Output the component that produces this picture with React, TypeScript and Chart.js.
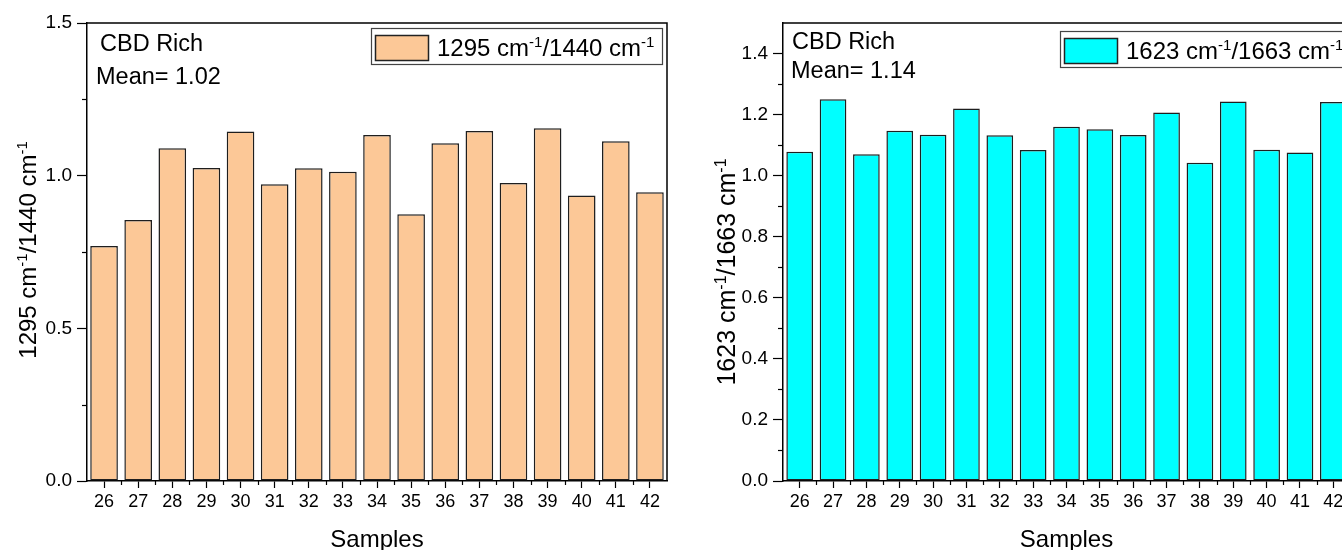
import React, { useEffect, useRef } from 'react';
import { Chart, registerables } from 'chart.js';

Chart.register(...registerables);

// ---------------- data ----------------
const SAMPLES = ['26', '27', '28', '29', '30', '31', '32', '33', '34', '35', '36', '37', '38', '39', '40', '41', '42'];
const RATIO_1295_1440 = [0.770, 0.855, 1.090, 1.025, 1.145, 0.972, 1.024, 1.013, 1.133, 0.874, 1.106, 1.146, 0.976, 1.155, 0.935, 1.113, 0.946];
const RATIO_1623_1663 = [1.078, 1.250, 1.070, 1.147, 1.134, 1.220, 1.132, 1.084, 1.160, 1.152, 1.133, 1.207, 1.042, 1.243, 1.085, 1.076, 1.241];

const LEFT_Y_TICKS = [0, 0.5, 1.0, 1.5];
const LEFT_Y_MINOR = [0.25, 0.75, 1.25];
const RIGHT_Y_TICKS = [0, 0.2, 0.4, 0.6, 0.8, 1.0, 1.2, 1.4];
const RIGHT_Y_MINOR = [0.1, 0.3, 0.5, 0.7, 0.9, 1.1, 1.3];
const Y_MIN = 0;
const Y_MAX = 1.5;

const GROUP_LABEL = 'CBD Rich';
const LEFT_MEAN = 'Mean= 1.02';
const RIGHT_MEAN = 'Mean= 1.14';
const X_TITLE = 'Samples';

type Seg = { t: string; sup?: boolean };
const LEFT_RATIO_LABEL: Seg[] = [{ t: '1295 cm' }, { t: '-1', sup: true }, { t: '/1440 cm' }, { t: '-1', sup: true }];
const RIGHT_RATIO_LABEL: Seg[] = [{ t: '1623 cm' }, { t: '-1', sup: true }, { t: '/1663 cm' }, { t: '-1', sup: true }];

const FONT = '"Liberation Sans", Arial, sans-serif';

function drawRich(ctx: CanvasRenderingContext2D, segs: Seg[], x: number, y: number, size: number, align: 'left' | 'center') {
  const supSize = Math.round(size * 0.64);
  const widths = segs.map((s) => {
    ctx.font = `${s.sup ? supSize : size}px ${FONT}`;
    return ctx.measureText(s.t).width;
  });
  const total = widths.reduce((a, b) => a + b, 0);
  let cx = align === 'center' ? x - total / 2 : x;
  ctx.textAlign = 'left';
  ctx.textBaseline = 'alphabetic';
  segs.forEach((s, i) => {
    ctx.font = `${s.sup ? supSize : size}px ${FONT}`;
    ctx.fillText(s.t, cx, s.sup ? y - size * 0.36 : y);
    cx += widths[i];
  });
}

type PanelProps = {
  left: number;
  width: number;
  plotLeft: number;
  plotRight: number;
  values: number[];
  fill: string;
  barPct: number;
  yTicks: number[];
  yMinor: number[];
  decimals: number;
  ratioLabel: Seg[];
  mean: string;
  yTitleX: number;
  yTitleY: number;
  yTitleSize: number;
  groupX: number;
  groupY: number;
  meanX: number;
  meanY: number;
  legendX: number;
  legendY: number;
  legendW: number;
  legendH: number;
  legendText: number;
};

const H = 550;
const PLOT_TOP = 23;
const PLOT_BOTTOM = 481;

function Panel(p: PanelProps) {
  const ref = useRef<HTMLCanvasElement | null>(null);
  useEffect(() => {
    const canvas = ref.current;
    if (!canvas) return;
    const decor = {
      id: 'decor',
      afterDraw(chart: any) {
        const ctx = chart.ctx as CanvasRenderingContext2D;
        const a = chart.chartArea;
        const ys = chart.scales.y;
        const xs = chart.scales.x;
        ctx.save();
        ctx.strokeStyle = '#000';
        ctx.lineWidth = 1.5;
        // top and right frame
        ctx.beginPath();
        ctx.moveTo(a.left, a.top);
        ctx.lineTo(a.right, a.top);
        ctx.lineTo(a.right, a.bottom);
        ctx.stroke();
        // minor y ticks
        ctx.lineWidth = 1.2;
        p.yMinor.forEach((v) => {
          const y = Math.round(ys.getPixelForValue(v)) + 0.5;
          ctx.beginPath();
          ctx.moveTo(a.left - 5, y);
          ctx.lineTo(a.left, y);
          ctx.stroke();
        });
        // minor x ticks at category boundaries
        for (let i = 0; i < SAMPLES.length - 1; i++) {
          const x = Math.round((xs.getPixelForValue(i) + xs.getPixelForValue(i + 1)) / 2) + 0.5;
          ctx.beginPath();
          ctx.moveTo(x, a.bottom);
          ctx.lineTo(x, a.bottom + 4);
          ctx.stroke();
        }
        ctx.fillStyle = '#000';
        // annotations
        ctx.font = `23.5px ${FONT}`;
        ctx.textAlign = 'left';
        ctx.textBaseline = 'alphabetic';
        ctx.fillText(GROUP_LABEL, p.groupX, p.groupY);
        ctx.fillText(p.mean, p.meanX, p.meanY);
        // legend
        ctx.fillStyle = '#fff';
        ctx.fillRect(p.legendX, p.legendY, p.legendW, p.legendH);
        ctx.strokeStyle = '#444';
        ctx.lineWidth = 1.2;
        ctx.strokeRect(p.legendX + 0.5, p.legendY + 0.5, p.legendW, p.legendH);
        ctx.fillStyle = p.fill;
        ctx.fillRect(p.legendX + 4, p.legendY + 7, 53, 25);
        ctx.strokeStyle = '#222';
        ctx.lineWidth = 1.5;
        ctx.strokeRect(p.legendX + 4.5, p.legendY + 7.5, 53, 25);
        ctx.fillStyle = '#000';
        drawRich(ctx, p.ratioLabel, p.legendX + 66, p.legendY + 28, p.legendText, 'left');
        // y title
        ctx.save();
        ctx.translate(p.yTitleX, p.yTitleY);
        ctx.rotate(-Math.PI / 2);
        drawRich(ctx, p.ratioLabel, 0, p.yTitleSize * 0.36, p.yTitleSize, 'center');
        ctx.restore();
        // x title
        ctx.font = `24px ${FONT}`;
        ctx.textAlign = 'center';
        ctx.textBaseline = 'alphabetic';
        ctx.fillText(X_TITLE, (a.left + a.right) / 2, 547);
        ctx.restore();
      },
    };
    const chart = new Chart(canvas, {
      type: 'bar',
      data: {
        labels: SAMPLES,
        datasets: [
          {
            data: p.values,
            backgroundColor: p.fill,
            borderColor: '#1e1e1e',
            borderWidth: 1.5,
            borderSkipped: false,
            categoryPercentage: 1,
            barPercentage: p.barPct,
          },
        ],
      },
      options: {
        responsive: false,
        animation: false,
        devicePixelRatio: 1,
        layout: { padding: { left: 0, top: PLOT_TOP, right: p.width - p.plotRight, bottom: 0 } },
        plugins: { legend: { display: false }, tooltip: { enabled: false }, title: { display: false } },
        scales: {
          x: {
            type: 'category',
            offset: true,
            afterFit: (s: any) => {
              s.height = H - PLOT_BOTTOM;
            },
            grid: { display: true, offset: false, drawOnChartArea: false, drawTicks: true, tickLength: 7, tickColor: '#000', tickWidth: 1.2 },
            border: { display: true, color: '#000', width: 1.5 },
            ticks: { autoSkip: false, maxRotation: 0, minRotation: 0, padding: 3, color: '#000', font: { family: FONT, size: 18 } },
          },
          y: {
            min: Y_MIN,
            max: Y_MAX,
            afterFit: (s: any) => {
              s.width = p.plotLeft;
            },
            afterBuildTicks: (s: any) => {
              s.ticks = p.yTicks.map((v) => ({ value: v }));
            },
            grid: { display: true, drawOnChartArea: false, drawTicks: true, tickLength: 10, tickColor: '#000', tickWidth: 1.2 },
            border: { display: true, color: '#000', width: 1.5 },
            ticks: {
              padding: 5,
              color: '#000',
              font: { family: FONT, size: 19 },
              callback: (v: any) => Number(v).toFixed(p.decimals),
            },
          },
        },
      },
      plugins: [decor],
    } as any);
    return () => chart.destroy();
  }, []);
  return (
    <canvas
      ref={ref}
      width={p.width}
      height={H}
      style={{ position: 'absolute', left: p.left, top: 0, width: p.width, height: H }}
    />
  );
}

export default function App() {
  return (
    <div style={{ position: 'fixed', left: 0, top: 0, width: 1342, height: 550, overflow: 'hidden', background: '#fff' }}>
      <Panel
        left={0}
        width={690}
        plotLeft={87}
        plotRight={667}
        values={RATIO_1295_1440}
        fill="#FCC897"
        barPct={0.81}
        yTicks={LEFT_Y_TICKS}
        yMinor={LEFT_Y_MINOR}
        decimals={1}
        ratioLabel={LEFT_RATIO_LABEL}
        mean={LEFT_MEAN}
        yTitleX={27}
        yTitleY={250}
        yTitleSize={24}
        groupX={100}
        groupY={51}
        meanX={96}
        meanY={84}
        legendX={371}
        legendY={28}
        legendW={291}
        legendH={36}
        legendText={24}
      />
      <Panel
        left={700}
        width={700}
        plotLeft={83}
        plotRight={650}
        values={RATIO_1623_1663}
        fill="#00FFFF"
        barPct={0.8}
        yTicks={RIGHT_Y_TICKS}
        yMinor={RIGHT_Y_MINOR}
        decimals={1}
        ratioLabel={RIGHT_RATIO_LABEL}
        mean={RIGHT_MEAN}
        yTitleX={26}
        yTitleY={272}
        yTitleSize={25}
        groupX={92}
        groupY={49}
        meanX={91}
        meanY={78}
        legendX={360}
        legendY={31}
        legendW={295}
        legendH={36}
        legendText={24}
      />
    </div>
  );
}
